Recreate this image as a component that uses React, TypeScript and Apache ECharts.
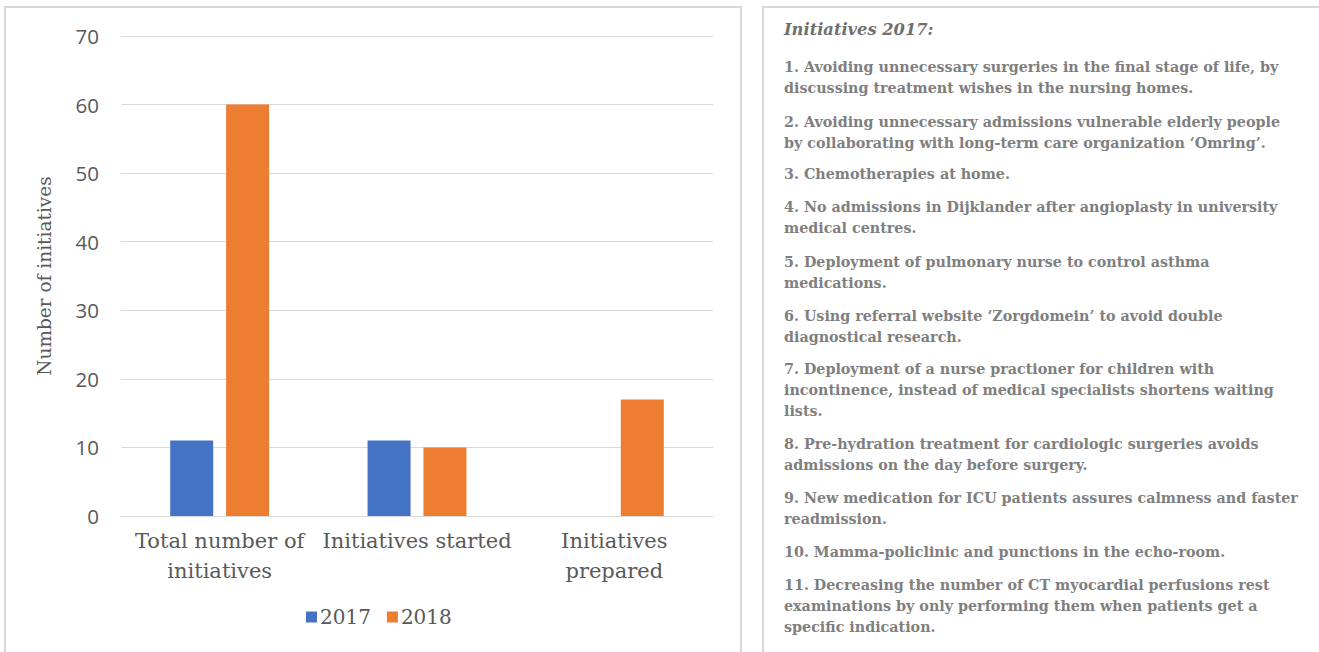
import React, { useEffect, useRef } from "react";
import * as echarts from "echarts";

const categories = ["Total number of\ninitiatives", "Initiatives started", "Initiatives\nprepared"];
const series2017 = [11, 11, null];
const series2018 = [60, 10, 17];
const seriesNames = ["2017", "2018"];
const yTicks = { min: 0, max: 70, interval: 10 };
const yAxisName = "Number of initiatives";

const listTitle = "Initiatives 2017:";
const listItems = [
  "1. Avoiding unnecessary surgeries in the final stage of life, by\ndiscussing treatment wishes in the nursing homes.",
  "2. Avoiding unnecessary admissions vulnerable elderly people\nby collaborating with long-term care organization \u2018Omring\u2019.",
  "3. Chemotherapies at home.",
  "4. No admissions in Dijklander after angioplasty in university\nmedical centres.",
  "5. Deployment of pulmonary nurse to control asthma\nmedications.",
  "6. Using referral website \u2018Zorgdomein\u2019 to avoid double\ndiagnostical research.",
  "7. Deployment of a nurse practioner for children with\nincontinence, instead of medical specialists shortens waiting\nlists.",
  "8. Pre-hydration treatment for cardiologic surgeries avoids\nadmissions on the day before surgery.",
  "9. New medication for ICU patients assures calmness and faster\nreadmission.",
  "10. Mamma-policlinic and punctions in the echo-room.",
  "11. Decreasing the number of CT myocardial perfusions rest\nexaminations by only performing them when patients get a\nspecific indication.",
];
const listItemTops = [56, 111, 163, 196, 251, 305, 358, 433, 487, 541, 574];

export default function App() {
  const ref = useRef<HTMLDivElement>(null);
  useEffect(() => {
    document.body.style.margin = "0";
    const chart = echarts.init(ref.current!, null, { renderer: "svg" });
    const serif = "DejaVu Serif";
    const graphics: any[] = [
      { type: "rect", shape: { x: 5, y: 7, width: 736, height: 660 }, style: { fill: "none", stroke: "#d9d9d9", lineWidth: 2 }, silent: true },
      { type: "rect", shape: { x: 763, y: 7, width: 570, height: 660 }, style: { fill: "none", stroke: "#d9d9d9", lineWidth: 2 }, silent: true },
      { type: "text", x: 784, y: 21, style: { text: listTitle, fontFamily: serif, fontStyle: "italic", fontWeight: "bold", fontSize: 16.3, fill: "#6f6f6f" } },
    ];
    listItems.forEach((t, i) => {
      graphics.push({
        type: "text",
        x: 784,
        y: listItemTops[i],
        style: { text: t, fontFamily: serif, fontWeight: "bold", fontSize: 14.3, lineHeight: 21, fill: "#7f7f7f" },
      });
    });
    chart.setOption({
      animation: false,
      grid: { left: 121, right: 606, top: 36, bottom: 136, containLabel: false },
      legend: {
        data: seriesNames,
        left: 306,
        top: 607,
        padding: 0,
        itemWidth: 11,
        itemHeight: 11,
        itemGap: 16,
        icon: "rect",
        textStyle: { fontFamily: serif, fontSize: 20, color: "#595959", padding: [0, 0, 0, -2] },
      },
      xAxis: {
        type: "category",
        data: categories,
        axisLine: { lineStyle: { color: "#d9d9d9", width: 1 } },
        axisTick: { show: false },
        axisLabel: { fontFamily: serif, fontSize: 21, color: "#595959", lineHeight: 30, margin: 10, interval: 0 },
      },
      yAxis: {
        type: "value",
        min: yTicks.min,
        max: yTicks.max,
        interval: yTicks.interval,
        name: yAxisName,
        nameLocation: "middle",
        nameGap: 67,
        nameTextStyle: { fontFamily: serif, fontSize: 18.5, color: "#595959" },
        axisLine: { show: false },
        axisTick: { show: false },
        splitLine: { lineStyle: { color: "#d9d9d9", width: 1 } },
        axisLabel: { fontFamily: "Open Sans", fontSize: 20.5, color: "#595959", margin: 22 },
      },
      series: [
        { name: seriesNames[0], type: "bar", data: series2017, barWidth: 43, barGap: "30%", itemStyle: { color: "#4472C4" } },
        { name: seriesNames[1], type: "bar", data: series2018, barWidth: 43, barGap: "30%", itemStyle: { color: "#ED7D31" } },
      ],
      graphic: graphics,
    });
    return () => chart.dispose();
  }, []);
  return <div ref={ref} style={{ width: 1319, height: 652 }} />;
}
